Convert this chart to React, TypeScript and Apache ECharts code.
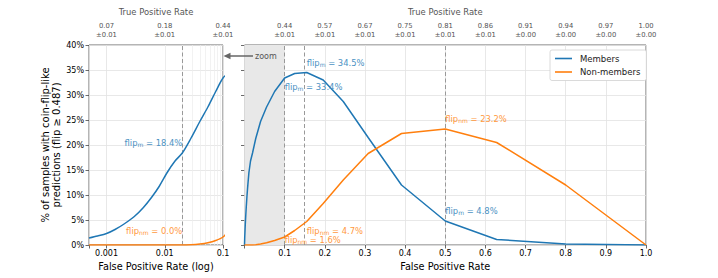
import React, { useEffect, useRef } from 'react';
import * as echarts from 'echarts';

// ---- data ----
const fpr = [0, 0.0005, 0.0007, 0.001, 0.0014, 0.002, 0.003, 0.0043, 0.006, 0.008, 0.011, 0.015, 0.02, 0.028, 0.04, 0.055, 0.075, 0.1, 0.125, 0.155, 0.196, 0.246, 0.308, 0.391, 0.5, 0.628, 0.8, 1.0];
const members = [0, 1.4, 1.8, 2.3, 3.1, 4.2, 5.7, 7.5, 9.6, 11.7, 14.5, 16.8, 18.4, 21.3, 24.7, 27.6, 30.7, 33.4, 34.3, 34.5, 33.0, 28.7, 21.5, 12.0, 4.8, 1.1, 0.2, 0];
const nonMembers = [0, 0, 0, 0, 0, 0, 0, 0, 0, 0, 0, 0, 0, 0.05, 0.2, 0.45, 0.9, 1.6, 2.9, 4.7, 8.3, 13.0, 18.3, 22.3, 23.2, 20.5, 12.0, 0];

const leftTickFpr = [0.001, 0.01, 0.1];
const leftTickLabels = ['0.001', '0.01', '0.1'];
const leftTpr = ['0.07', '0.18', '0.44'];
const leftTprErr = ['0.01', '0.01', '0.01'];

const rightTickFpr = [0.1, 0.2, 0.3, 0.4, 0.5, 0.6, 0.7, 0.8, 0.9, 1.0];
const rightTpr = ['0.44', '0.57', '0.67', '0.75', '0.81', '0.86', '0.91', '0.94', '0.97', '1.00'];
const rightTprErr = ['0.01', '0.01', '0.01', '0.01', '0.01', '0.01', '0.00', '0.00', '0.00', '0.00'];

const leftMinorFpr = [0.0006, 0.0007, 0.0008, 0.0009, 0.002, 0.003, 0.004, 0.005, 0.006, 0.007, 0.008, 0.009, 0.02, 0.03, 0.04, 0.05, 0.06, 0.07, 0.08, 0.09];
const leftDashed = [0.02];
const rightDashed = [0.1, 0.155, 0.5];
const zoomRange = [0, 0.1];

// annotations
const annPanel = ['left', 'left', 'right', 'right', 'right', 'right', 'right', 'right'];
const annSeries = ['m', 'nm', 'm', 'm', 'nm', 'nm', 'm', 'nm'];
const annFpr = [0.02, 0.02, 0.155, 0.1, 0.155, 0.1, 0.5, 0.5];
const annValue = [18.4, 0.0, 34.5, 33.4, 4.7, 1.6, 4.8, 23.2];
const annAlign = ['right', 'right', 'left', 'left', 'left', 'left', 'left', 'left'];
const annDy = [-10, -14, -10, 9, 9, 2.8, -10, -10];

const FONT = 'DejaVu Sans';
const BLUE = '#1f77b4';
const ORANGE = '#ff7f0e';
const BLUE_TXT = '#4c92c3';
const ORANGE_TXT = '#ff993e';

function richFor(color: string) {
  return {
    b: { fontSize: 8.4, color, fontFamily: FONT, lineHeight: 9 },
    s: { fontSize: 6, color, fontFamily: FONT, lineHeight: 9, verticalAlign: 'bottom' },
  };
}

function markPointsFor(panel: string, ser: string) {
  const data: any[] = [];
  for (let i = 0; i < annPanel.length; i++) {
    if (annPanel[i] !== panel || annSeries[i] !== ser) continue;
    const color = ser === 'm' ? BLUE_TXT : ORANGE_TXT;
    data.push({
      coord: [annFpr[i], annValue[i]],
      label: {
        show: true,
        position: [0, 0],
        align: annAlign[i],
        verticalAlign: 'middle',
        offset: [0, annDy[i]],
        formatter: `{b|flip}{s|${ser}}{b| = ${annValue[i].toFixed(1)}%}`,
        rich: richFor(color),
      },
    });
  }
  return {
    symbol: 'circle',
    symbolSize: 0,
    itemStyle: { color: 'transparent' },
    silent: true,
    z: 6,
    data,
  };
}

function findIdx(arr: number[], v: number, log: boolean) {
  for (let i = 0; i < arr.length; i++) {
    if (log) {
      if (Math.abs(Math.log10(arr[i]) - Math.log10(v)) < 0.01) return i;
    } else if (Math.abs(arr[i] - v) < 1e-6) return i;
  }
  return -1;
}

export default function App() {
  const ref = useRef<HTMLDivElement>(null);
  useEffect(() => {
    if (!ref.current) return;
    const chart = echarts.init(ref.current, null, { renderer: 'svg' });

    const leftM = fpr.map((x, i) => [x, members[i]]).filter((p) => p[0] > 0);
    const leftNM = fpr.map((x, i) => [x, nonMembers[i]]).filter((p) => p[0] > 0);
    const rightM = fpr.map((x, i) => [x, members[i]]);
    const rightNM = fpr.map((x, i) => [x, nonMembers[i]]);

    const axisColor = '#444';
    const gridColor = '#e2e2e2';
    const dashedStyle = { type: [4, 2.5], color: '#999', width: 1 };

    const option: any = {
      animation: false,
      textStyle: { fontFamily: FONT },
      grid: [
        { left: 89, top: 45, width: 134, height: 200, show: true, borderColor: axisColor, borderWidth: 0.8, containLabel: false },
        { left: 244.5, top: 45, width: 401.5, height: 200, show: true, borderColor: axisColor, borderWidth: 0.8, containLabel: false },
      ],
      legend: {
        data: ['Members', 'Non-members'],
        orient: 'vertical',
        left: 550,
        top: 50,
        icon: 'rect',
        itemWidth: 17,
        itemHeight: 1.6,
        itemGap: 4.5,
        padding: [4, 6, 4, 5],
        borderColor: '#d0d0d0',
        borderWidth: 0.8,
        borderRadius: 2,
        backgroundColor: '#fff',
        textStyle: { fontSize: 8.5, color: '#222', fontFamily: FONT, padding: [0, 0, 0, 3] },
      },
      xAxis: [
        {
          gridIndex: 0, type: 'log', logBase: 10, min: 0.0005, max: 0.1, position: 'bottom',
          name: 'False Positive Rate (log)', nameLocation: 'middle', nameGap: 16,
          nameTextStyle: { fontSize: 9.7, color: '#000', fontFamily: FONT },
          axisLine: { show: false },
          axisTick: { show: true, length: 3.5, lineStyle: { color: axisColor, width: 0.8 } },
          axisLabel: {
            fontSize: 8, color: '#000', margin: 4, fontFamily: FONT, showMinLabel: true, showMaxLabel: true,
            formatter: (v: number) => { const i = findIdx(leftTickFpr, v, true); return i >= 0 ? leftTickLabels[i] : ''; },
          },
          splitLine: { show: true, lineStyle: { color: gridColor, width: 0.8 } },
        },
        {
          gridIndex: 0, type: 'log', logBase: 10, min: 0.0005, max: 0.1, position: 'top',
          name: 'True Positive Rate', nameLocation: 'middle', nameGap: 29,
          nameTextStyle: { fontSize: 8.4, color: '#555', fontFamily: FONT },
          axisLine: { show: false }, axisTick: { show: false }, splitLine: { show: false },
          axisLabel: {
            fontSize: 6.8, color: '#555', margin: 6, lineHeight: 8.5, fontFamily: FONT, showMinLabel: true, showMaxLabel: true,
            formatter: (v: number) => { const i = findIdx(leftTickFpr, v, true); return i >= 0 ? `${leftTpr[i]}\n±${leftTprErr[i]}` : ''; },
          },
        },
        {
          gridIndex: 1, type: 'value', min: 0, max: 1, interval: 0.1, position: 'bottom',
          name: 'False Positive Rate', nameLocation: 'middle', nameGap: 16,
          nameTextStyle: { fontSize: 9.7, color: '#000', fontFamily: FONT },
          axisLine: { show: false },
          axisTick: { show: true, length: 3.5, lineStyle: { color: axisColor, width: 0.8 } },
          axisLabel: {
            fontSize: 8, color: '#000', margin: 4, fontFamily: FONT, showMinLabel: true, showMaxLabel: true,
            formatter: (v: number) => { const i = findIdx(rightTickFpr, v, false); return i >= 0 ? rightTickFpr[i].toFixed(1) : ''; },
          },
          splitLine: { show: true, lineStyle: { color: gridColor, width: 0.8 } },
        },
        {
          gridIndex: 1, type: 'value', min: 0, max: 1, interval: 0.1, position: 'top',
          name: 'True Positive Rate', nameLocation: 'middle', nameGap: 29,
          nameTextStyle: { fontSize: 8.4, color: '#555', fontFamily: FONT },
          axisLine: { show: false }, axisTick: { show: false }, splitLine: { show: false },
          axisLabel: {
            fontSize: 6.8, color: '#555', margin: 6, lineHeight: 8.5, fontFamily: FONT, showMinLabel: true, showMaxLabel: true,
            formatter: (v: number) => { const i = findIdx(rightTickFpr, v, false); return i >= 0 ? `${rightTpr[i]}\n±${rightTprErr[i]}` : ''; },
          },
        },
      ],
      yAxis: [
        {
          gridIndex: 0, type: 'value', min: 0, max: 40, interval: 5,
          name: '% of samples with coin-flip-like\npredictions (flip ≥ 0.487)', nameLocation: 'middle', nameGap: 25, nameRotate: 90,
          nameTextStyle: { fontSize: 10, lineHeight: 11.5, color: '#000', fontFamily: FONT, align: 'center' },
          axisLine: { show: false },
          axisTick: { show: true, length: 3.5, lineStyle: { color: axisColor, width: 0.8 } },
          axisLabel: { fontSize: 8, color: '#000', margin: 5, fontFamily: FONT, formatter: '{value}%' },
          splitLine: { show: true, lineStyle: { color: gridColor, width: 0.8 } },
        },
        {
          gridIndex: 1, type: 'value', min: 0, max: 40, interval: 5,
          axisLine: { show: false },
          axisTick: { show: true, length: 3.5, lineStyle: { color: axisColor, width: 0.8 } },
          axisLabel: { show: false },
          splitLine: { show: true, lineStyle: { color: gridColor, width: 0.8 } },
        },
      ],
      series: [
        {
          name: 'guides-left', type: 'line', xAxisIndex: 0, yAxisIndex: 0, data: [], z: 1, silent: true,
          markLine: {
            silent: true, z: 1, symbol: ['none', 'none'], label: { show: false },
            data: [
              ...leftMinorFpr.map((v) => ({ xAxis: v, lineStyle: { color: '#ececec', width: 0.7, type: 'solid' } })),
              ...leftDashed.map((v) => ({ xAxis: v, lineStyle: dashedStyle })),
            ],
          },
        },
        {
          name: 'guides-right', type: 'line', xAxisIndex: 2, yAxisIndex: 1, data: [], z: 1, silent: true,
          markArea: {
            silent: true, z: 1, itemStyle: { color: '#e8e8e8' },
            data: [[{ xAxis: zoomRange[0] }, { xAxis: zoomRange[1] }]],
          },
          markLine: {
            silent: true, z: 1, symbol: ['none', 'none'], label: { show: false },
            data: rightDashed.map((v) => ({ xAxis: v, lineStyle: dashedStyle })),
          },
        },
        {
          name: 'Members', type: 'line', xAxisIndex: 0, yAxisIndex: 0, data: leftM, showSymbol: false, z: 3, smooth: 0.3,
          lineStyle: { color: BLUE, width: 1.5 }, itemStyle: { color: BLUE }, clip: true,
          markPoint: markPointsFor('left', 'm'),
        },
        {
          name: 'Non-members', type: 'line', xAxisIndex: 0, yAxisIndex: 0, data: leftNM, showSymbol: false, z: 3, smooth: 0.3,
          lineStyle: { color: ORANGE, width: 1.5 }, itemStyle: { color: ORANGE }, clip: true,
          markPoint: markPointsFor('left', 'nm'),
        },
        {
          name: 'Members', type: 'line', xAxisIndex: 2, yAxisIndex: 1, data: rightM, showSymbol: false, z: 3,
          lineStyle: { color: BLUE, width: 1.5 }, itemStyle: { color: BLUE }, clip: true,
          markPoint: markPointsFor('right', 'm'),
        },
        {
          name: 'Non-members', type: 'line', xAxisIndex: 2, yAxisIndex: 1, data: rightNM, showSymbol: false, z: 3,
          lineStyle: { color: ORANGE, width: 1.5 }, itemStyle: { color: ORANGE }, clip: true,
          markPoint: markPointsFor('right', 'nm'),
        },
      ],
      graphic: [
        { type: 'line', shape: { x1: 253, y1: 56, x2: 229, y2: 56 }, style: { stroke: '#666', lineWidth: 1.5 }, z: 100, silent: true },
        { type: 'polygon', shape: { points: [[223.5, 56], [230.5, 52.8], [230.5, 59.2]] }, style: { fill: '#666' }, z: 100, silent: true },
        { type: 'text', x: 255, y: 56, style: { text: 'zoom', fontSize: 8, fill: '#555', fontFamily: FONT, verticalAlign: 'middle' }, z: 100, silent: true },
      ],
    };

    chart.setOption(option);
    return () => chart.dispose();
  }, []);

  return <div ref={ref} style={{ position: 'fixed', left: 0, top: 0, width: 718, height: 278, background: '#fff' }} />;
}
